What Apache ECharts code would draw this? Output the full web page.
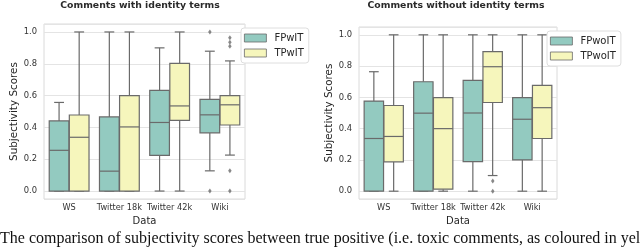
<!DOCTYPE html>
<html><head><meta charset="utf-8">
<script src="https://cdn.jsdelivr.net/npm/echarts@6/dist/echarts.min.js"></script>
<style>html,body{margin:0;padding:0;background:#fff}#c{width:640px;height:248px}</style>
</head><body><div id="c"></div>
<script>
const categories = ['WS', 'Twitter 18k', 'Twitter 42k', 'Wiki'];
const yTicks = [0, 0.2, 0.4, 0.6, 0.8, 1.0];
// each entry: [lower whisker, Q1, median, Q3, upper whisker]
const fpWIT = [[0, 0, 0.256, 0.441, 0.557], [0, 0, 0.125, 0.466, 1.0], [0, 0.224, 0.431, 0.633, 0.9], [0.127, 0.366, 0.479, 0.576, 0.879]];
const tpWIT = [[0, 0, 0.338, 0.478, 1.0], [0, 0, 0.403, 0.6, 1.0], [0, 0.444, 0.535, 0.802, 1.0], [0.226, 0.415, 0.542, 0.6, 0.818]];
const fpWIToutliers = [[3, 1.0], [3, 0.0]];
const tpWIToutliers = [[3, 0.963], [3, 0.935], [3, 0.91], [3, 0.127], [3, 0.0]];
const fpWoIT = [[0, 0, 0.337, 0.576, 0.764], [0, 0, 0.499, 0.7, 1.0], [0, 0.189, 0.5, 0.709, 1.0], [0, 0.2, 0.46, 0.598, 1.0]];
const tpWoIT = [[0, 0.188, 0.35, 0.548, 1.0], [0, 0.013, 0.4, 0.598, 1.0], [0.1, 0.567, 0.796, 0.893, 1.0], [0, 0.337, 0.534, 0.677, 1.0]];
const fpWoIToutliers = [];
const tpWoIToutliers = [[2, 0.065], [2, 0.0]];

const teal = '#93cac0';
const yellow = '#f6f6bc';
const gray = '#6a6a6a';
const font = 'DejaVu Sans';

function boxRender(side, color) {
  return function (params, api) {
    const c = api.value(0);
    const base = api.coord([c, 0]);
    const band = api.size([1, 0])[0];
    const w = band * 0.4 * 0.98;
    const cx = base[0] + side * band * 0.2;
    const y = i => api.coord([c, api.value(i)])[1];
    const ymin = y(1), yq1 = y(2), ymed = y(3), yq3 = y(4), ymax = y(5);
    const ls = { stroke: gray, lineWidth: 1.2 };
    return {
      type: 'group',
      children: [
        { type: 'line', shape: { x1: cx, y1: yq1, x2: cx, y2: ymin }, style: ls },
        { type: 'line', shape: { x1: cx, y1: yq3, x2: cx, y2: ymax }, style: ls },
        { type: 'line', shape: { x1: cx - w / 4, y1: ymin, x2: cx + w / 4, y2: ymin }, style: ls },
        { type: 'line', shape: { x1: cx - w / 4, y1: ymax, x2: cx + w / 4, y2: ymax }, style: ls },
        { type: 'rect', shape: { x: cx - w / 2, y: yq3, width: w, height: yq1 - yq3 }, style: { fill: color, stroke: gray, lineWidth: 1.2 } },
        { type: 'line', shape: { x1: cx - w / 2, y1: ymed, x2: cx + w / 2, y2: ymed }, style: ls }
      ]
    };
  };
}

function boxSeries(name, data, gi, side, color) {
  return {
    type: 'custom', name: name, xAxisIndex: gi, yAxisIndex: gi,
    data: data.map((d, i) => [i].concat(d)),
    encode: { x: 0, y: [1, 2, 3, 4, 5] },
    itemStyle: { color: color },
    renderItem: boxRender(side, color),
    z: 3
  };
}
function outlierSeries(data, gi, side) {
  return {
    type: 'scatter', xAxisIndex: gi, yAxisIndex: gi, data: data,
    symbol: 'diamond', symbolSize: [3.5, 5], symbolOffset: [side * 10, 0],
    itemStyle: { color: gray }, z: 4, silent: true
  };
}

function xAxisDef(gi) {
  return {
    type: 'category', gridIndex: gi, data: categories,
    axisLine: { show: false }, axisTick: { show: false }, splitLine: { show: false },
    axisLabel: { interval: 0, margin: 5, fontSize: 8.2, color: '#333', fontFamily: font },
    name: 'Data', nameLocation: 'middle', nameGap: 15,
    nameTextStyle: { fontSize: 10, color: '#262626', fontFamily: font }
  };
}
function yAxisDef(gi, gap) {
  return {
    type: 'value', gridIndex: gi, min: -0.05, max: 1.05, splitNumber: 5,
    axisLine: { show: false }, axisTick: { show: false },
    splitLine: { show: true, lineStyle: { color: '#e4e4e4', width: 1 } },
    axisLabel: {
      margin: 7, fontSize: 8.4, color: '#333', fontFamily: font,
      showMinLabel: false, showMaxLabel: false,
      formatter: v => yTicks.some(t => Math.abs(t - v) < 1e-6) ? v.toFixed(1) : ''
    },
    name: 'Subjectivity Scores', nameLocation: 'middle', nameGap: gap,
    nameTextStyle: { fontSize: 10.4, color: '#262626', fontFamily: font }
  };
}
function legendDef(names, left, top) {
  return {
    data: [
      { name: names[0], itemStyle: { color: teal, borderColor: gray, borderWidth: 0.8 } },
      { name: names[1], itemStyle: { color: yellow, borderColor: gray, borderWidth: 0.8 } }
    ],
    orient: 'vertical', left: left, top: top, icon: 'rect',
    itemWidth: 22, itemHeight: 8, itemGap: 3,
    padding: [4, 5, 4, 3],
    backgroundColor: '#fff', borderColor: '#dedede', borderWidth: 1, borderRadius: 3,
    selectedMode: false,
    textStyle: { fontFamily: font, fontSize: 10, color: '#262626', lineHeight: 12, padding: [0, 0, 0, 3] }
  };
}

const chart = echarts.init(document.getElementById('c'), null, { renderer: 'canvas' });
chart.setOption({
  animation: false,
  backgroundColor: '#fff',
  title: [
    { text: 'Comments with identity terms', left: 140, top: 1.5, textAlign: 'center', padding: 0,
      textStyle: { fontFamily: font, fontSize: 9.3, fontWeight: 'bold', color: '#2a2a2a' } },
    { text: 'Comments without identity terms', left: 456, top: 1.5, textAlign: 'center', padding: 0,
      textStyle: { fontFamily: font, fontSize: 9.3, fontWeight: 'bold', color: '#2a2a2a' } }
  ],
  grid: [
    { left: 44, top: 24, width: 201, height: 175, show: true, borderColor: '#dadada', borderWidth: 1, backgroundColor: '#fff', containLabel: false, outerBoundsMode: 'none' },
    { left: 359, top: 27, width: 198, height: 172, show: true, borderColor: '#dadada', borderWidth: 1, backgroundColor: '#fff', containLabel: false, outerBoundsMode: 'none' }
  ],
  xAxis: [xAxisDef(0), xAxisDef(1)],
  yAxis: [yAxisDef(0, 24), yAxisDef(1, 22)],
  legend: [legendDef(['FPwIT', 'TPwIT'], 241, 28), legendDef(['FPwoIT', 'TPwoIT'], 547, 31)],
  series: [
    boxSeries('FPwIT', fpWIT, 0, -1, teal),
    boxSeries('TPwIT', tpWIT, 0, 1, yellow),
    outlierSeries(fpWIToutliers, 0, -1),
    outlierSeries(tpWIToutliers, 0, 1),
    boxSeries('FPwoIT', fpWoIT, 1, -1, teal),
    boxSeries('TPwoIT', tpWoIT, 1, 1, yellow),
    outlierSeries(fpWoIToutliers, 1, -1),
    outlierSeries(tpWoIToutliers, 1, 1)
  ],
  graphic: [
    { type: 'text', left: 0, top: 231, silent: true,
      style: { text: 'The comparison of subjectivity scores between true positive (i.e. toxic comments, as coloured in yellow) and false positive', font: '16px "Liberation Serif"', fill: '#111' } }
  ]
});
</script>
</body></html>
